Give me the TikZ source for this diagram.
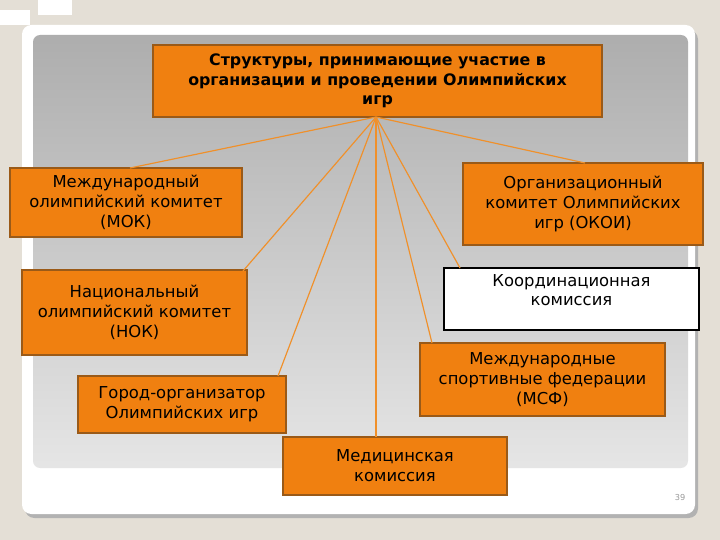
\documentclass[tikz,border=0pt]{standalone}
\usepackage{fontspec}
\setmainfont{DejaVu Sans}
\definecolor{bg}{HTML}{E4DFD6}
\definecolor{org}{HTML}{F08010}
\definecolor{brd}{HTML}{9A5A18}
\definecolor{lnc}{HTML}{F0902A}
\begin{document}
\begin{tikzpicture}[x=0.03cm,y=-0.03cm,
  ob/.style={draw=brd, line width=1.4pt, fill=org, font=\fontsize{14}{17}\selectfont, align=center, inner sep=0pt},
  ln/.style={draw=lnc, line width=1pt}]
\useasboundingbox (0,0) rectangle (720,540);
\fill[bg] (0,0) rectangle (720,540);
\fill[white] (0,10) rectangle (30,25);
\fill[white] (38,0) rectangle (72,15);
\fill[black!30, rounded corners=8] (25,30) rectangle (698,518);
\fill[white, rounded corners=8] (22,25) rectangle (695,514);
\shade[top color=black!32, bottom color=black!10, rounded corners=6] (33,35) rectangle (688,468);
\node[font=\fontsize{7}{8}\selectfont, text=black!40] (pg) at (680,498) {39};
\node[ob, font=\bfseries\fontsize{13.5}{16.5}\selectfont, minimum width=449*0.03cm, minimum height=72*0.03cm] (t) at (377.5,81) {Структуры, принимающие участие в\\организации и проведении Олимпийских\\игр};
\node[ob, minimum width=232*0.03cm, minimum height=69*0.03cm] (mok) at (126,202.5) {Международный\\олимпийский комитет\\(МОК)};
\node[ob, minimum width=240*0.03cm, minimum height=82*0.03cm] (okoi) at (583,204) {Организационный\\комитет  Олимпийских\\игр (ОКОИ)};
\node[ob, minimum width=225*0.03cm, minimum height=85*0.03cm] (nok) at (134.5,312.5) {Национальный\\олимпийский комитет\\(НОК)};
\node[ob, draw=black, fill=white, line width=1.8pt, minimum width=255*0.03cm, minimum height=62*0.03cm, text depth=18*0.03cm] (kk) at (571.5,299) {Координационная\\комиссия};
\node[ob, minimum width=245*0.03cm, minimum height=73*0.03cm] (msf) at (542.5,379.5) {Международные\\спортивные федерации\\(МСФ)};
\node[ob, minimum width=208*0.03cm, minimum height=57*0.03cm] (city) at (182,404.5) {Город-организатор\\Олимпийских игр};
\node[ob, minimum width=224*0.03cm, minimum height=58*0.03cm] (med) at (395,466) {Медицинская\\комиссия};
\coordinate (h) at (376,117);
\draw[ln] (h) -- (130,168);
\draw[ln] (h) -- (585,163);
\draw[ln] (h) -- (243,271);
\draw[ln] (h) -- (278,376);
\draw[ln] (h) -- (376,437);
\draw[ln] (h) -- (460,268);
\draw[ln] (h) -- (432,343);
\end{tikzpicture}
\end{document}
